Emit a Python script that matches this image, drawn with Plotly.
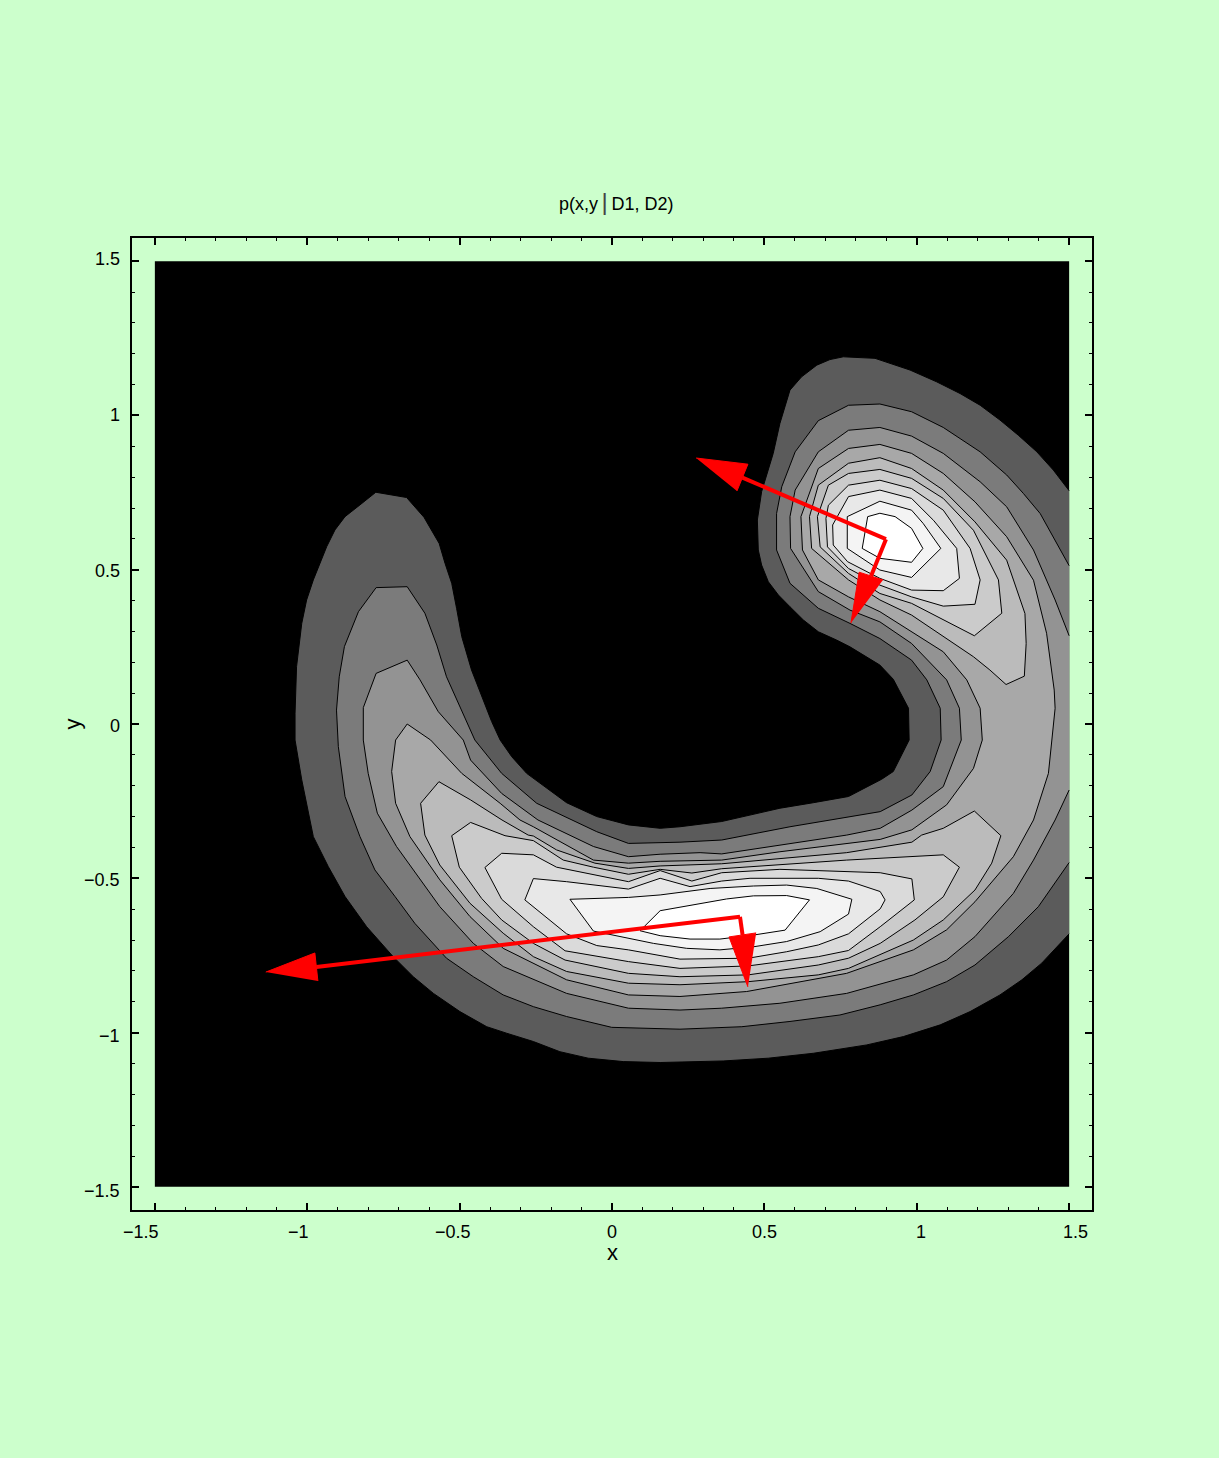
import plotly.graph_objects as go

# Contour regions in data units: (x, y) pairs
level1 = [(-.775,.751),(-.674,.734),(-.617,.670),(-.567,.585),(-.548,.521),(-.526,.456),(-.510,.375),(-.493,.283),(-.461,.175),(-.422,.078),(-.395,.008),
 (-.367,-.052),(-.329,-.106),(-.280,-.160),(-.214,-.208),(-.149,-.255),(-.050,-.300),(.054,-.327),(.158,-.338),(.223,-.333),(.360,-.316),(.453,-.295),(.551,-.273),(.661,-.255),(.776,-.235),
 (.885,-.179),(.923,-.154),(.975,-.052),(.973,.051),(.923,.145),(.879,.191),(.781,.250),(.737,.272),(.677,.299),(.628,.337),(.584,.380),(.546,.418),
 (.513,.461),(.491,.515),(.480,.564),(.477,.661),(.491,.753),(.529,.877),(.551,.974),(.584,1.082),(.622,1.125),(.672,1.163),(.715,1.181),(.759,1.190),
 (.863,1.185),(.978,1.147),(1.065,1.109),(1.142,1.071),(1.208,1.033),(1.273,.985),(1.333,.936),(1.394,.882),(1.448,.823),(1.5,.756),(1.5,-.680),(1.410,-.775),(1.345,-.829),(1.273,-.878),(1.175,-.932),
 (1.077,-.975),(.956,-1.013),(.836,-1.040),(.661,-1.067),(.513,-1.083),(.365,-1.092),(.223,-1.096),(.158,-1.097),(.037,-1.094),(-.078,-1.083),(-.171,-1.062),(-.258,-1.029),(-.346,-1.002),(-.411,-.981),(-.499,-.932),
 (-.586,-.873),(-.652,-.819),(-.718,-.754),(-.805,-.657),(-.876,-.559),(-.931,-.462),(-.980,-.365),(-1.018,-.181),(-1.040,-.052),(-1.040,.035),(-1.035,.186),
 (-1.018,.326),(-1.002,.402),(-.980,.467),(-.936,.575),(-.909,.629),(-.876,.672),(-.827,.710)]
level2 = [(-.774,.442),(-.672,.445),(-.614,.359),(-.575,.256),(-.543,.153),(-.493,.045),(-.450,-.052),(-.362,-.160),
 (-.247,-.257),(-.050,-.349),(.054,-.387),(.223,-.383),(.360,-.376),(.584,-.333),(.880,-.284),(.984,-.230),(1.044,-.154),
 (1.080,-.052),(1.077,.051),(1.033,.143),(.983,.207),(.879,.277),(.781,.326),(.677,.375),(.584,.456),(.540,.564),
 (.540,.682),(.557,.769),(.601,.882),(.677,.983),(.776,1.033),(.879,1.037),(.983,1.012),(1.087,.961),(1.142,.925),(1.208,.882),
 (1.295,.807),(1.350,.747),(1.405,.682),(1.454,.596),(1.5,.513),(1.5,-.449),(1.399,-.592),(1.301,-.689),(1.191,-.781),(1.098,-.835),(.989,-.878),(.880,-.910),(.748,-.943),(.584,-.964),(.426,-.981),
 (.223,-.989),(-.001,-.983),(-.149,-.948),(-.258,-.916),(-.357,-.878),(-.455,-.819),(-.543,-.759),(-.647,-.646),(-.712,-.559),(-.778,-.473),(-.827,-.365),
 (-.876,-.235),(-.898,-.073),(-.904,.045),(-.895,.153),(-.878,.251),(-.832,.364)]
level3 = [(-.774,.164),(-.672,.207),(-.630,.143),(-.570,.040),(-.488,-.052),(-.464,-.117),(-.362,-.225),(-.243,-.311),
 (-.061,-.397),(.054,-.430),(.158,-.422),(.289,-.417),(.360,-.421),(.770,-.360),(.880,-.338),(.984,-.279),(1.087,-.203),
 (1.146,-.052),(1.140,.051),(1.098,.143),(.983,.261),(.879,.331),(.781,.369),(.677,.429),(.586,.569),(.584,.672),
 (.601,.758),(.677,.882),(.776,.952),(.879,.961),(.983,.933),(1.087,.877),(1.208,.785),(1.295,.704),(1.383,.564),
 (1.454,.402),(1.5,.286),(1.5,-.214),(1.454,-.311),(1.383,-.441),(1.317,-.549),(1.191,-.689),(1.098,-.765),(.989,-.813),
 (.770,-.873),(.551,-.905),(.360,-.921),(.223,-.927),(.054,-.921),(-.149,-.873),(-.357,-.786),(-.455,-.711),(-.565,-.592),
 (-.707,-.397),(-.770,-.289),(-.800,-.160),(-.816,-.052),(-.816,.053)]
level4 = [(-.672,.0),(-.595,-.052),(-.493,-.160),(-.367,-.257),(-.302,-.311),(-.258,-.333),(-.061,-.441),(.054,-.451),
 (.158,-.445),(.360,-.441),(.551,-.414),(.880,-.374),(.984,-.343),(1.098,-.262),(1.186,-.144),(1.215,-.052),(1.208,.051),
 (1.164,.143),(1.087,.234),(.983,.299),(.879,.364),(.776,.412),(.677,.467),(.625,.564),(.620,.672),(.677,.828),(.776,.893),
 (.879,.906),(.983,.877),(1.087,.812),(1.191,.720),(1.295,.607),(1.383,.466),(1.426,.294),(1.451,.110),(1.454,.051),
 (1.432,-.160),(1.383,-.311),(1.317,-.430),(1.191,-.576),(1.098,-.667),(.989,-.732),(.770,-.808),(.442,-.867),(.223,-.883),
 (.054,-.878),(-.149,-.829),(-.357,-.727),(-.466,-.624),(-.565,-.505),(-.663,-.365),(-.710,-.257),(-.723,-.154),(-.710,-.052)]
level5_upper = [(.648,.672),(.655,.569),(.776,.467),(.879,.402),(.983,.353),(1.087,.283),(1.186,.218),(1.240,.175),(1.293,.128),
 (1.353,.155),(1.359,.261),(1.355,.358),(1.295,.531),(1.191,.655),(1.087,.758),(.983,.828),(.879,.863),(.776,.845),(.677,.774)]
level5_lower = [(-.568,-.187),(-.464,-.246),(-.361,-.311),(-.275,-.360),(-.258,-.363),(-.182,-.408),(-.056,-.451),(.054,-.468),
 (.158,-.460),(.360,-.453),(.770,-.417),(.984,-.383),(1.016,-.360),(1.087,-.338),(1.189,-.282),(1.276,-.362),(1.246,-.451),
 (1.191,-.538),(1.087,-.635),(.989,-.700),(.776,-.792),(.677,-.813),(.447,-.835),(.223,-.845),(.054,-.840),(-.149,-.802),
 (-.258,-.754),(-.357,-.678),(-.466,-.581),(-.565,-.457),(-.614,-.360),(-.628,-.257)]
level6_upper = [(.674,.672),(.683,.574),(.776,.488),(.879,.423),(.983,.391),(1.087,.337),(1.189,.286),(1.279,.359),(1.268,.467),
 (1.186,.628),(1.087,.731),(.983,.796),(.879,.825),(.776,.812),(.710,.774)]
level6_lower = [(-.464,-.319),(-.351,-.362),(-.258,-.378),(-.160,-.441),(-.061,-.464),(.054,-.487),(.158,-.471),(.262,-.483),
 (.360,-.469),(.770,-.441),(1.087,-.424),(1.140,-.464),(1.087,-.560),(.994,-.635),(.880,-.711),(.776,-.759),(.677,-.781),
 (.447,-.813),(.223,-.819),(.054,-.808),(-.154,-.765),(-.258,-.711),(-.362,-.635),(-.428,-.565),(-.501,-.464),(-.526,-.362)]
level7_upper = [(.702,.666),(.707,.574),(.776,.504),(.879,.450),(.983,.412),(1.087,.382),(1.191,.388),(1.208,.467),(1.175,.569),
 (1.087,.693),(.983,.763),(.879,.790),(.776,.774),(.710,.709)]
level7_lower = [(-.362,-.419),(-.258,-.424),(-.182,-.464),(-.061,-.489),(.054,-.511),(.158,-.475),(.262,-.509),(.360,-.482),
 (.551,-.471),(.880,-.482),(.984,-.502),(.992,-.570),(.880,-.657),(.776,-.734),(.677,-.754),(.447,-.784),(.223,-.792),
 (.054,-.770),(-.154,-.735),(-.258,-.657),(-.362,-.568),(-.417,-.465)]
level8_upper = [(.726,.580),(.724,.645),(.776,.737),(.879,.758),(.983,.731),(1.055,.660),(1.131,.569),(1.140,.472),(1.087,.432),
 (.983,.434),(.879,.472),(.773,.526)]
level8_lower = [(-.258,-.501),(-.149,-.511),(.054,-.535),(.158,-.500),(.256,-.527),(.360,-.509),(.453,-.500),(.677,-.500),(.776,-.509),
 (.880,-.543),(.896,-.570),(.880,-.599),(.776,-.680),(.677,-.716),(.573,-.738),(.447,-.759),(.223,-.762),(.054,-.732),(-.050,-.718),
 (-.149,-.680),(-.286,-.570)]
level9_upper = [(.772,.672),(.879,.722),(.983,.693),(1.021,.650),(1.079,.569),(.983,.475),(.879,.499),(.772,.569)]
level9_lower = [(-.138,-.568),(.054,-.562),(.158,-.554),(.322,-.533),(.464,-.525),(.573,-.522),(.672,-.533),(.787,-.568),(.776,-.616),
 (.683,-.673),(.573,-.705),(.464,-.722),(.354,-.732),(.245,-.727),(.136,-.711),(.054,-.695),(-.061,-.671)]
level10_upper = [(.821,.569),(.839,.672),(.879,.683),(.929,.672),(.983,.634),(1.020,.569),(.983,.524),(.879,.537)]
level10_lower = [(.158,-.605),(.267,-.587),(.376,-.567),(.464,-.557),(.573,-.556),(.648,-.570),(.568,-.668),(.464,-.684),(.354,-.697),
 (.256,-.697),(.158,-.686),(.092,-.670)]

region_names = ["level1","level2","level3","level4","level5_upper","level5_lower","level6_upper","level6_lower",
 "level7_upper","level7_lower","level8_upper","level8_lower","level9_upper","level9_lower","level10_upper","level10_lower"]
regions = [level1,level2,level3,level4,level5_upper,level5_lower,level6_upper,level6_lower,
 level7_upper,level7_lower,level8_upper,level8_lower,level9_upper,level9_lower,level10_upper,level10_lower]
region_grays = ["#5b5b5b","#7b7b7b","#939393","#a8a8a8","#bbbbbb","#bbbbbb","#cbcbcb","#cbcbcb",
 "#dadada","#dadada","#e8e8e8","#e8e8e8","#f4f4f4","#f4f4f4","#ffffff","#ffffff"]

# Four arrows: two origins, stems and triangular heads
origin_upper = (.899,.599)
origin_lower = (.420,-.625)
arrow_origins = [origin_upper, origin_upper, origin_lower, origin_lower]
arrow_tips = [(.276,.862),(.784,.327),(-1.136,-.804),(.446,-.852)]
arrow_corner_a = [(.446,.842),(.811,.492),(-.975,-.742),(.384,-.690)]
arrow_corner_b = [(.410,.755),(.889,.467),(-.965,-.833),(.473,-.677)]

domain = [-1.5, 1.5]
axis_range = [-1.575, 1.575]
major_ticks = [-1.5,-1,-.5,0,.5,1,1.5]
tick_text = ["\u22121.5","\u22121","\u22120.5","0","0.5","1","1.5"]
x_label_shift = [-14,-9,-7,0,0,4,6]
y_label_shift = [-4,-3,-2,-2,-1,0,2]
title_text = 'p(x,y\u2009<span style="font-size:24px;color:#444444">|</span>\u2009D1, D2)'

BG = "#ccffcc"
FONT = "Liberation Sans"

fig = go.Figure()
fig.add_trace(go.Scatter(x=[domain[0],domain[1],domain[1],domain[0]], y=[domain[0],domain[0],domain[1],domain[1]],
    mode="lines", fill="toself", fillcolor="#000000", line=dict(width=0), hoverinfo="skip"))

for name, pts, gray in zip(region_names, regions, region_grays):
    xs = [p[0] for p in pts]
    ys = [p[1] for p in pts]
    fig.add_trace(go.Scatter(x=xs, y=ys, mode="lines", fill="toself", fillcolor=gray,
        line=dict(width=0), name=name, hoverinfo="skip"))
    # outline, broken along the clipped right-hand edge of the domain
    lx, ly = [], []
    closed = pts + [pts[0]]
    for a, b in zip(closed[:-1], closed[1:]):
        lx.append(a[0]); ly.append(a[1])
        if a[0] >= domain[1] and b[0] >= domain[1]:
            lx.append(None); ly.append(None)
    lx.append(closed[-1][0]); ly.append(closed[-1][1])
    fig.add_trace(go.Scatter(x=lx, y=ly, mode="lines", line=dict(color="#000000", width=1),
        name=name + " line", hoverinfo="skip"))

for o, tip, ca, cb in zip(arrow_origins, arrow_tips, arrow_corner_a, arrow_corner_b):
    base = ((ca[0]+cb[0])/2, (ca[1]+cb[1])/2)
    fig.add_trace(go.Scatter(x=[o[0],base[0]], y=[o[1],base[1]], mode="lines",
        line=dict(color="#ff0000", width=4), hoverinfo="skip"))
    fig.add_trace(go.Scatter(x=[tip[0],ca[0],cb[0]], y=[tip[1],ca[1],cb[1]], mode="lines", fill="toself",
        fillcolor="#ff0000", line=dict(color="#ff0000", width=1), hoverinfo="skip"))

axis_common = dict(range=axis_range, showgrid=False, zeroline=False, showline=True, linecolor="#000000", linewidth=1.5,
    mirror="ticks", ticks="inside", ticklen=7, tickwidth=2, tickcolor="#000000",
    tickmode="array", tickvals=major_ticks, showticklabels=False,
    minor=dict(ticks="inside", ticklen=3.5, tickwidth=1, tickcolor="#000000", dtick=0.1, tick0=-1.5, showgrid=False))

annotations = []
for v, t, s in zip(major_ticks, tick_text, x_label_shift):
    annotations.append(dict(x=v, y=0, xref="x", yref="paper", text=t, showarrow=False, xanchor="center", yanchor="top",
        xshift=s, yshift=-10, font=dict(family=FONT, size=18, color="#000000")))
for v, t, s in zip(major_ticks, tick_text, y_label_shift):
    annotations.append(dict(x=0, y=v, xref="paper", yref="y", text=t, showarrow=False, xanchor="right", yanchor="middle",
        xshift=-10, yshift=s, font=dict(family=FONT, size=18, color="#000000")))
annotations.append(dict(x=0.5, y=0, xref="paper", yref="paper", text="x", showarrow=False, yanchor="top", yshift=-28,
    font=dict(family=FONT, size=22, color="#000000")))
annotations.append(dict(x=0, y=0.5, xref="paper", yref="paper", text="y", showarrow=False, xanchor="right", textangle=-90,
    xshift=-46, font=dict(family=FONT, size=22, color="#000000")))
annotations.append(dict(x=0.5, y=1, xref="paper", yref="paper", text=title_text, showarrow=False, yanchor="bottom",
    xshift=4, yshift=21, font=dict(family=FONT, size=18, color="#000000")))

fig.update_layout(width=1219, height=1458, autosize=False, paper_bgcolor=BG, plot_bgcolor=BG, showlegend=False,
    margin=dict(l=132, r=127, t=238, b=248, pad=0), xaxis=axis_common, yaxis=axis_common, annotations=annotations)

fig.write_html("out.html", config={"displayModeBar": False},
    post_script="document.body.style.margin='0';document.documentElement.style.background='#ffffff';")
